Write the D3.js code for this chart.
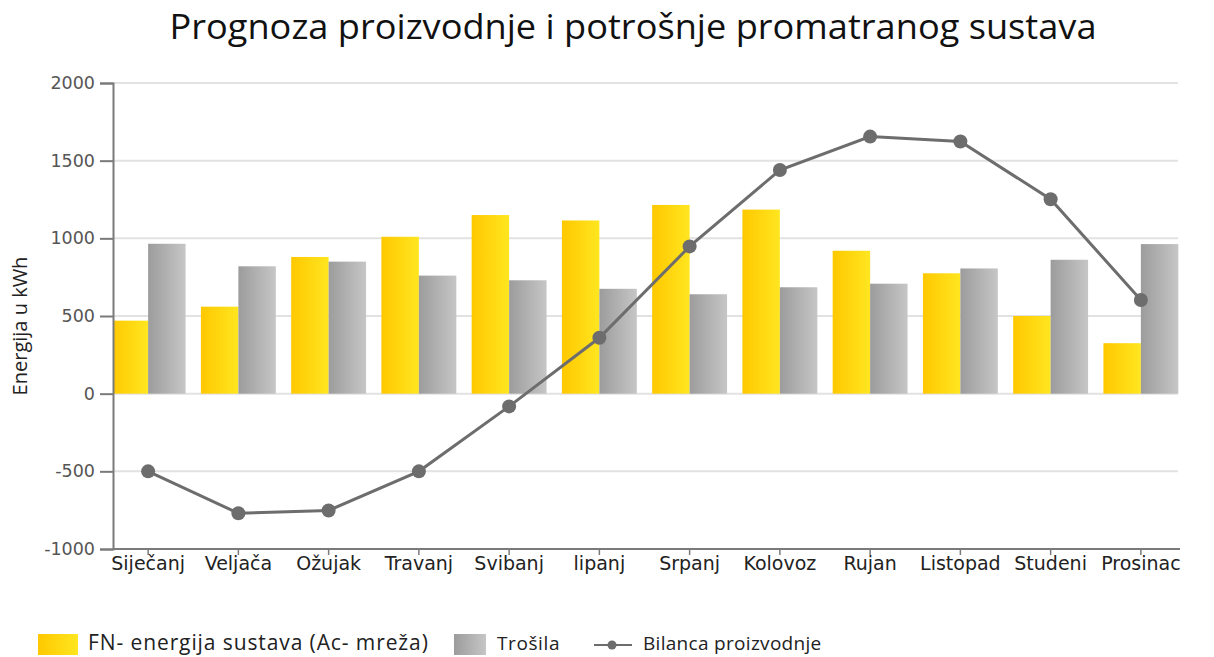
<!DOCTYPE html>
<html>
<head>
<meta charset="utf-8">
<script src="https://cdn.jsdelivr.net/npm/d3@7"></script>
<style>
  body { margin: 0; background: #fff; }
  svg { display: block; }
</style>
</head>
<body>
<svg id="chart"></svg>
<script>
var months = ["Siječanj", "Veljača", "Ožujak", "Travanj", "Svibanj", "lipanj",
              "Srpanj", "Kolovoz", "Rujan", "Listopad", "Studeni", "Prosinac"];
var fnEnergija = [470, 560, 880, 1010, 1150, 1115, 1215, 1185, 920, 775, 500, 325];
var trosila    = [965, 820, 850, 760, 730, 675, 640, 685, 708, 806, 862, 963];
var bilanca    = [-500, -770, -752, -500, -82, 360, 948, 1440, 1655, 1623, 1252, 603];
var yTicks = [-1000, -500, 0, 500, 1000, 1500, 2000];
var seriesNames = ["FN- energija sustava (Ac- mreža)", "Trošila", "Bilanca proizvodnje"];

var width = 1214, height = 657;
var svg = d3.select("#chart").attr("width", width).attr("height", height);

var axisX = 113, gridEnd = 1178;

var y = d3.scaleLinear().domain([-1000, 2000]).range([549, 83]);

var x = d3.scaleBand().domain(months)
    .range([103, 1186])
    .paddingInner(0.17)
    .paddingOuter(0.085);

var x1 = d3.scaleBand().domain(["fn", "tr"]).range([0, x.bandwidth()]);

var defs = svg.append("defs");
var gy = defs.append("linearGradient").attr("id", "gYellow");
gy.append("stop").attr("offset", "0%").attr("stop-color", "#ffc800");
gy.append("stop").attr("offset", "100%").attr("stop-color", "#ffe620");
var gg = defs.append("linearGradient").attr("id", "gGray");
gg.append("stop").attr("offset", "0%").attr("stop-color", "#9c9c9c");
gg.append("stop").attr("offset", "100%").attr("stop-color", "#c6c6c6");

defs.append("clipPath").attr("id", "plotClip")
  .append("rect")
    .attr("x", axisX).attr("y", 0)
    .attr("width", gridEnd - axisX + 2).attr("height", height);

// title
svg.append("text")
    .attr("x", 633).attr("y", 39)
    .attr("text-anchor", "middle")
    .attr("font-family", "Open Sans")
    .attr("font-size", 34)
    .attr("fill", "#111")
    .attr("textLength", 927)
    .attr("lengthAdjust", "spacingAndGlyphs")
    .text("Prognoza proizvodnje i potrošnje promatranog sustava");

// gridlines
svg.append("g").selectAll("line")
  .data(yTicks.filter(d => d > -1000))
  .join("line")
    .attr("x1", axisX).attr("x2", gridEnd)
    .attr("y1", d => y(d)).attr("y2", d => y(d))
    .attr("stroke", "#e2e2e2")
    .attr("stroke-width", 2);

// bars
var plot = svg.append("g").attr("clip-path", "url(#plotClip)");

var groups = plot.selectAll("g.month")
  .data(months.map((m, i) => ({ m: m, fn: fnEnergija[i], tr: trosila[i] })))
  .join("g")
    .attr("class", "month")
    .attr("transform", d => "translate(" + x(d.m) + ",0)");

groups.append("rect")
    .attr("x", x1("fn"))
    .attr("width", x1.bandwidth())
    .attr("y", d => y(d.fn))
    .attr("height", d => y(0) - y(d.fn))
    .attr("fill", "url(#gYellow)");

groups.append("rect")
    .attr("x", x1("tr"))
    .attr("width", x1.bandwidth())
    .attr("y", d => y(d.tr))
    .attr("height", d => y(0) - y(d.tr))
    .attr("fill", "url(#gGray)");

// y axis
var yAxis = svg.append("g")
    .attr("transform", "translate(" + axisX + ",0)")
    .call(d3.axisLeft(y).tickValues(yTicks).tickSize(13).tickPadding(5)
      .tickFormat(d => String(d)));
yAxis.select(".domain").attr("stroke", "#7a7a7a").attr("stroke-width", 2);
yAxis.selectAll(".tick line").attr("stroke", "#7a7a7a").attr("stroke-width", 2);
yAxis.selectAll(".tick text")
    .attr("font-family", "DejaVu Sans")
    .attr("font-size", 17.5)
    .attr("fill", "#555");

// x axis
var xAxis = svg.append("g")
    .attr("transform", "translate(0," + y(-1000) + ")")
    .call(d3.axisBottom(x).tickSize(6).tickPadding(2).tickSizeOuter(0));
xAxis.select(".domain").attr("d", "M" + axisX + ",0H" + (gridEnd + 2))
    .attr("stroke", "#7a7a7a").attr("stroke-width", 2);
xAxis.selectAll(".tick line").attr("stroke", "#7a7a7a").attr("stroke-width", 1.5);
xAxis.selectAll(".tick text")
    .attr("font-family", "DejaVu Sans")
    .attr("font-size", 19)
    .attr("fill", "#222");

// y title
svg.append("text")
    .attr("transform", "translate(27,326) rotate(-90)")
    .attr("text-anchor", "middle")
    .attr("font-family", "Open Sans")
    .attr("font-size", 20)
    .attr("fill", "#222")
    .text("Energija u kWh");

// line
var cx = d => x(d) + x.bandwidth() / 2;
var line = d3.line().x((d, i) => cx(months[i])).y(d => y(d));

svg.append("path")
    .datum(bilanca)
    .attr("d", line)
    .attr("fill", "none")
    .attr("stroke", "#6d6d6d")
    .attr("stroke-width", 3);

svg.append("g").selectAll("circle")
  .data(bilanca)
  .join("circle")
    .attr("cx", (d, i) => cx(months[i]))
    .attr("cy", d => y(d))
    .attr("r", 7)
    .attr("fill", "#6d6d6d");

// legend
var lg = svg.append("g").attr("font-family", "Open Sans").attr("fill", "#222");
lg.append("rect").attr("x", 38).attr("y", 634).attr("width", 40).attr("height", 21).attr("fill", "url(#gYellow)");
lg.append("text").attr("x", 88).attr("y", 650).attr("font-size", 21)
    .attr("letter-spacing", 0.9).text(seriesNames[0]);
lg.append("rect").attr("x", 454).attr("y", 634).attr("width", 32).attr("height", 21).attr("fill", "url(#gGray)");
lg.append("text").attr("x", 497).attr("y", 650).attr("font-size", 19)
    .attr("letter-spacing", 0.6).text(seriesNames[1]);
lg.append("line").attr("x1", 594).attr("x2", 632).attr("y1", 645).attr("y2", 645)
    .attr("stroke", "#6d6d6d").attr("stroke-width", 2);
lg.append("circle").attr("cx", 612).attr("cy", 645).attr("r", 4.5).attr("fill", "#6d6d6d");
lg.append("text").attr("x", 643).attr("y", 650).attr("font-size", 19)
    .attr("letter-spacing", 0.3).text(seriesNames[2]);
</script>
</body>
</html>
